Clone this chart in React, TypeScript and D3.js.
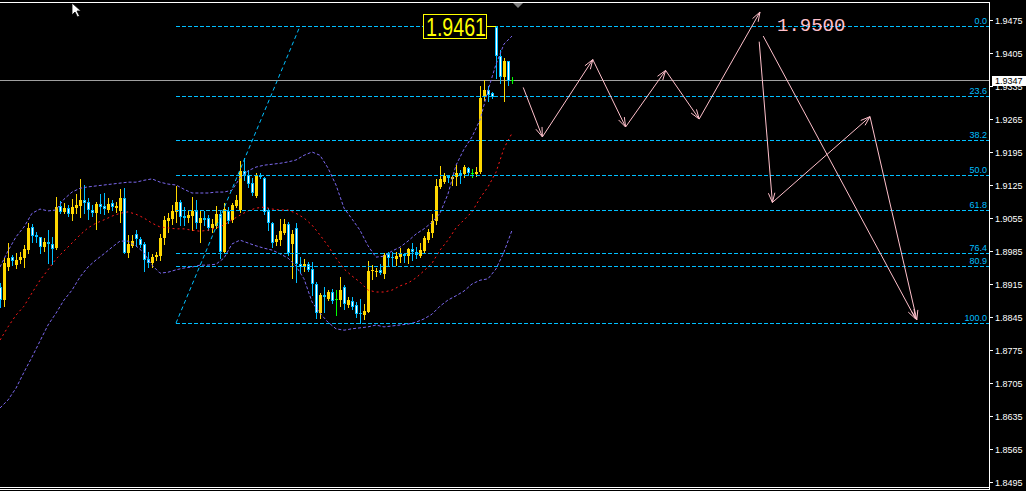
import React from "react";
import * as d3 from "d3";

const WIDTH = 1026;
const HEIGHT = 491;

// ---- candles (one per bar, left to right) ----
const opens = [
  1.8909,1.8881,1.8951,1.8972,1.8955,1.8966,1.8970,1.8987,1.9036,1.9019,
  1.9015,1.8993,1.9004,1.9000,1.8991,1.9080,1.9068,1.9076,1.9063,1.9076,
  1.9080,1.9093,1.9089,1.9072,1.9065,1.9085,1.9080,1.9072,1.9087,1.9076,
  1.9070,1.9097,1.8981,1.8996,1.9021,1.9010,1.9000,1.8968,1.8959,1.8972,
  1.8974,1.9012,1.9049,1.9053,1.9068,1.9089,1.9059,1.9055,1.9059,1.9070,
  1.9044,1.9055,1.9055,1.9034,1.9038,1.9063,1.8983,1.9070,1.9051,1.9080,
  1.9072,1.9155,1.9146,1.9129,1.9102,1.9146,1.9140,1.9070,1.9044,1.9004,
  1.9008,1.9023,1.9042,1.9000,1.9034,1.8957,1.8951,1.8957,1.8947,1.8915,
  1.8853,1.8892,1.8883,1.8898,1.8883,1.8881,1.8909,1.8870,1.8879,1.8870,
  1.8853,1.8849,1.8856,1.8943,1.8940,1.8945,1.8936,1.8979,1.8972,1.8968,
  1.8972,1.8979,1.8974,1.8989,1.8983,1.8974,1.8985,1.9008,1.9023,1.9049,
  1.9121,1.9131,1.9144,1.9138,1.9142,1.9150,1.9148,1.9161,1.9150,1.9148,
  1.9152,1.9311,1.9326,1.9320,1.9460,1.9398,1.9354,1.9388,1.9347,
];
const highs = [
  1.8917,1.8970,1.9002,1.8976,1.8981,1.8983,1.8998,1.9044,1.9042,1.9025,
  1.9015,1.9012,1.9029,1.9015,1.9099,1.9091,1.9087,1.9082,1.9095,1.9106,
  1.9138,1.9125,1.9097,1.9082,1.9089,1.9106,1.9108,1.9097,1.9093,1.9089,
  1.9116,1.9118,1.9019,1.9019,1.9029,1.9015,1.9004,1.8983,1.8979,1.8983,
  1.9021,1.9059,1.9065,1.9082,1.9123,1.9093,1.9078,1.9072,1.9099,1.9093,
  1.9072,1.9070,1.9061,1.9053,1.9080,1.9072,1.9087,1.9078,1.9087,1.9104,
  1.9176,1.9182,1.9157,1.9140,1.9150,1.9150,1.9142,1.9076,1.9046,1.9019,
  1.9053,1.9053,1.9046,1.9029,1.9044,1.8972,1.8968,1.8962,1.8962,1.8919,
  1.8896,1.8909,1.8902,1.8904,1.8902,1.8930,1.8913,1.8887,1.8887,1.8877,
  1.8883,1.8873,1.8964,1.8955,1.8949,1.8957,1.8981,1.8983,1.8983,1.8983,
  1.8991,1.8981,1.8991,1.9002,1.8993,1.9002,1.9017,1.9032,1.9063,1.9138,
  1.9165,1.9150,1.9146,1.9146,1.9167,1.9157,1.9167,1.9163,1.9159,1.9163,
  1.9335,1.9347,1.9335,1.9322,1.9462,1.9411,1.9394,1.9388,1.9354,
];
const lows = [
  1.8866,1.8868,1.8945,1.8955,1.8949,1.8959,1.8951,1.8981,1.9004,1.9004,
  1.8981,1.8985,1.8959,1.8957,1.8989,1.9065,1.9065,1.9059,1.9051,1.9065,
  1.9057,1.9065,1.9053,1.9059,1.9032,1.9065,1.9063,1.9068,1.9072,1.9068,
  1.9046,1.8981,1.8972,1.8993,1.8996,1.8993,1.8943,1.8951,1.8951,1.8966,
  1.8966,1.9000,1.9025,1.9042,1.9046,1.9040,1.9040,1.9046,1.9029,1.9034,
  1.9004,1.9040,1.9029,1.9025,1.9034,1.8970,1.8981,1.9044,1.9046,1.9078,
  1.9068,1.9135,1.9121,1.9104,1.9099,1.9140,1.9063,1.9029,1.8993,1.8998,
  1.8998,1.9021,1.8976,1.8928,1.8919,1.8940,1.8943,1.8943,1.8892,1.8843,
  1.8843,1.8856,1.8881,1.8875,1.8849,1.8868,1.8862,1.8866,1.8862,1.8845,
  1.8832,1.8841,1.8856,1.8926,1.8932,1.8936,1.8928,1.8953,1.8953,1.8955,
  1.8962,1.8962,1.8959,1.8966,1.8970,1.8972,1.8983,1.9004,1.9015,1.9042,
  1.9118,1.9129,1.9131,1.9125,1.9125,1.9129,1.9142,1.9146,1.9142,1.9144,
  1.9150,1.9305,1.9303,1.9309,1.9352,1.9341,1.9303,1.9337,1.9341,
];
const closes = [
  1.8881,1.8959,1.8970,1.8964,1.8966,1.8972,1.8989,1.9034,1.9017,1.9015,
  1.8993,1.9004,1.9000,1.8989,1.9078,1.9068,1.9076,1.9063,1.9078,1.9082,
  1.9093,1.9087,1.9072,1.9065,1.9085,1.9078,1.9074,1.9085,1.9078,1.9080,
  1.9097,1.8981,1.9000,1.9006,1.9010,1.8998,1.8966,1.8959,1.8972,1.8976,
  1.9012,1.9051,1.9055,1.9070,1.9089,1.9057,1.9055,1.9061,1.9070,1.9044,
  1.9055,1.9051,1.9034,1.9042,1.9063,1.8983,1.9074,1.9049,1.9082,1.9093,
  1.9155,1.9146,1.9127,1.9108,1.9146,1.9142,1.9068,1.9044,1.9002,1.9010,
  1.9027,1.9042,1.8981,1.9021,1.8957,1.8951,1.8957,1.8945,1.8915,1.8853,
  1.8892,1.8887,1.8898,1.8879,1.8883,1.8902,1.8873,1.8881,1.8866,1.8851,
  1.8851,1.8858,1.8943,1.8945,1.8943,1.8938,1.8976,1.8970,1.8970,1.8974,
  1.8981,1.8974,1.8989,1.8983,1.8976,1.8987,1.9012,1.9025,1.9049,1.9123,
  1.9138,1.9144,1.9140,1.9142,1.9150,1.9146,1.9163,1.9150,1.9150,1.9152,
  1.9309,1.9326,1.9316,1.9311,1.9398,1.9354,1.9388,1.9345,1.9347,
];

// ---- Bollinger bands, sampled every 2nd bar ----
const bandStep = 2;
const bbUpper = [
  1.8951,1.8985,1.9015,1.9036,1.9065,1.9074,1.9070,1.9072,1.9095,1.9110,
  1.9118,1.9121,1.9123,1.9125,1.9127,1.9129,1.9131,1.9131,1.9135,1.9138,
  1.9131,1.9127,1.9125,1.9116,1.9108,1.9108,1.9108,1.9110,1.9110,1.9114,
  1.9140,1.9155,1.9163,1.9167,1.9169,1.9171,1.9174,1.9178,1.9188,1.9195,
  1.9188,1.9161,1.9125,1.9076,1.9053,1.9029,1.8996,1.8972,1.8974,1.8985,
  1.8993,1.9006,1.9021,1.9032,1.9046,1.9065,1.9106,1.9167,1.9201,1.9227,
  1.9263,1.9326,1.9381,1.9424,1.9441,
];
const bbMiddle = [
  1.8796,1.8824,1.8849,1.8868,1.8896,1.8923,1.8945,1.8968,1.8985,1.9002,
  1.9019,1.9034,1.9044,1.9051,1.9059,1.9065,1.9068,1.9063,1.9055,1.9044,
  1.9036,1.9034,1.9032,1.9032,1.9029,1.9027,1.9029,1.9034,1.9040,1.9051,
  1.9061,1.9070,1.9076,1.9078,1.9074,1.9072,1.9072,1.9065,1.9055,1.9040,
  1.9019,1.8996,1.8970,1.8947,1.8932,1.8919,1.8902,1.8898,1.8898,1.8902,
  1.8911,1.8917,1.8928,1.8943,1.8959,1.8987,1.9008,1.9034,1.9051,1.9068,
  1.9097,1.9121,1.9152,1.9203,1.9235,
];
const bbLower = [
  1.8652,1.8669,1.8694,1.8728,1.8760,1.8794,1.8828,1.8853,1.8881,1.8902,
  1.8930,1.8951,1.8966,1.8979,1.8993,1.9006,1.9006,1.8996,1.8981,1.8955,
  1.8938,1.8940,1.8945,1.8949,1.8951,1.8955,1.8955,1.8957,1.8970,1.9000,
  1.9008,1.9002,1.8996,1.8991,1.8987,1.8979,1.8970,1.8953,1.8926,1.8877,
  1.8853,1.8834,1.8820,1.8817,1.8820,1.8822,1.8824,1.8828,1.8824,1.8826,
  1.8828,1.8830,1.8834,1.8841,1.8851,1.8868,1.8881,1.8890,1.8900,1.8915,
  1.8923,1.8926,1.8947,1.8983,1.9029,
];

// ---- price axis ----
const priceTicks = [
  1.9475,1.9405,1.9335,1.9265,1.9195,1.9125,1.9055,1.8985,1.8915,1.8845,
  1.8775,1.8705,1.8635,1.8565,1.8495,
];
const currentPrice = 1.9347;

// ---- Fibonacci retracement ----
const fibLevels = [0, 23.6, 38.2, 50, 61.8, 76.4, 80.9, 100];
const fibBar = [44, 75]; // bar of 100% anchor, bar of 0% anchor
const fibPrice = [1.8832, 1.9462];

// high label
const highLabelText = "1.9461";
const highLabelBar = 106;
const highLabelPrice = 1.9462;

// ---- forecast arrows (bar index, price) ----
const zigBars = [130.8, 135.6, 148.2, 156.4, 166.4, 174.8, 190];
const zigPrices = [1.9332, 1.9227, 1.9391, 1.9248, 1.9368, 1.9265, 1.9492];
const branchBars = [189.8, 193.1, 217.5, 229.2];
const branchPrices = [1.9429, 1.9088, 1.927, 1.8839];
const directBars = [190.8, 228.9];
const directPrices = [1.9441, 1.8841];
const targetText = "1.9500";
const targetBar = 194.25;
const targetPrice = 1.9451;

const BULL = "#ffd700";
const BEAR = "#00bfff";
const DOJI = "#00ff00";
const FIB = "#00bfff";
const PINK = "#ffc0cb";
const BAND = "#7b68ee";
const MID = "#ff1a1a";

export default function App() {
  const plotRight = 990;
  const x = d3.scaleLinear().domain([0, 247.5]).range([0, plotRight]);
  const y = d3.scaleLinear().domain([1.8495, 1.9475]).range([482, 20]);
  const ry = (p: number) => Math.round(y(p));

  const candles = opens.map((o, i) => {
    const c = closes[i];
    const cx = Math.round(x(i));
    const yH = ry(highs[i]);
    const yL = ry(lows[i]);
    const yO = ry(o);
    const yC = ry(c);
    const top = Math.min(yO, yC);
    const bot = Math.max(yO, yC);
    if (c > o) {
      return (
        <g key={i}>
          <line x1={cx + 0.5} x2={cx + 0.5} y1={yH} y2={yL + 1} stroke={BULL} />
          <rect x={cx - 1} y={top} width={3} height={Math.max(1, bot - top)} fill={BULL} />
        </g>
      );
    }
    if (c < o) {
      return (
        <g key={i}>
          <line x1={cx + 0.5} x2={cx + 0.5} y1={yH} y2={yL + 1} stroke={BEAR} />
          {bot - top >= 2 ? (
            <rect x={cx - 0.5} y={top + 0.5} width={2} height={bot - top - 1} fill="#ffffff" stroke={BEAR} />
          ) : (
            <rect x={cx - 1} y={top} width={3} height={Math.max(1, bot - top)} fill={BEAR} />
          )}
        </g>
      );
    }
    return (
      <g key={i}>
        <line x1={cx + 0.5} x2={cx + 0.5} y1={yH} y2={yL + 1} stroke={DOJI} />
        <rect x={cx - 1} y={top} width={3} height={1} fill={DOJI} />
      </g>
    );
  });

  const bandLine = d3
    .line<number>()
    .x((_, i) => x(i * bandStep))
    .y((d) => y(d));

  const fibX0 = Math.round(x(Math.min(fibBar[0], fibBar[1])));
  const fibLines = fibLevels.map((lv) => {
    const p = fibPrice[1] + ((fibPrice[0] - fibPrice[1]) * lv) / 100;
    const yy = ry(p) + 0.5;
    return (
      <g key={lv}>
        <line x1={fibX0} x2={plotRight} y1={yy} y2={yy} stroke={FIB} strokeDasharray="4,2" />
        <text x={987} y={yy - 2.5} fill={FIB} fontSize={9} textAnchor="end" fontFamily="'Liberation Sans', Arial, sans-serif">
          {lv.toFixed(1)}
        </text>
      </g>
    );
  });

  const arrow = (x1: number, y1: number, x2: number, y2: number, key: string) => {
    const a = Math.atan2(y2 - y1, x2 - x1);
    const L = 10;
    const w = 0.33;
    const p1 = [x2 - L * Math.cos(a - w), y2 - L * Math.sin(a - w)];
    const p2 = [x2 - L * Math.cos(a + w), y2 - L * Math.sin(a + w)];
    return (
      <g key={key} stroke={PINK} strokeWidth={1} fill="none">
        <line x1={x1} y1={y1} x2={x2} y2={y2} />
        <path d={`M${p1[0]},${p1[1]}L${x2},${y2}L${p2[0]},${p2[1]}`} />
      </g>
    );
  };

  const arrows: React.ReactNode[] = [];
  const addChain = (bars: number[], prices: number[], tag: string) => {
    for (let i = 0; i < bars.length - 1; i++) {
      arrows.push(
        arrow(x(bars[i]), y(prices[i]), x(bars[i + 1]), y(prices[i + 1]), `${tag}${i}`)
      );
    }
  };
  addChain(zigBars, zigPrices, "z");
  addChain(branchBars, branchPrices, "b");
  addChain(directBars, directPrices, "d");

  const bidY = ry(currentPrice) + 0.5;
  const hlX = Math.round(x(highLabelBar));
  const hlY = ry(highLabelPrice);
  const spikeX = Math.round(x(124));

  return (
    <svg
      width={WIDTH}
      height={HEIGHT}
      style={{ position: "fixed", left: 0, top: 0, display: "block", background: "#000" }}
      fontFamily="'Liberation Sans', Arial, sans-serif"
    >
      <rect x={0} y={0} width={WIDTH} height={HEIGHT} fill="#000" />

      {/* bid line */}
      <line x1={0} x2={plotRight} y1={bidY} y2={bidY} stroke="#a0a0a0" />

      {/* candles */}
      <g>{candles}</g>

      {/* Bollinger bands */}
      <path d={bandLine(bbUpper) || ""} fill="none" stroke={BAND} strokeDasharray="3,2" />
      <path d={bandLine(bbLower) || ""} fill="none" stroke={BAND} strokeDasharray="3,2" />
      <path d={bandLine(bbMiddle) || ""} fill="none" stroke={MID} strokeDasharray="2,3" />

      {/* Fibonacci */}
      {fibLines}
      <line
        x1={x(fibBar[0])}
        y1={y(fibPrice[0])}
        x2={x(fibBar[1])}
        y2={y(fibPrice[1])}
        stroke={FIB}
        strokeDasharray="4,3"
      />

      {/* high label */}
      <rect x={hlX - 0.5} y={hlY - 11.5} width={63} height={24} fill="#000" stroke="#ffff00" />
      <text
        x={hlX + 2}
        y={hlY + 10}
        fill="#ffff00"
        fontSize={25}
        textLength={60}
        lengthAdjust="spacingAndGlyphs"
      >
        {highLabelText}
      </text>
      <line x1={hlX + 63} x2={spikeX} y1={hlY + 0.5} y2={hlY + 0.5} stroke="#ffff00" />

      {/* forecast arrows */}
      {arrows}
      <text
        x={x(targetBar)}
        y={y(targetPrice)}
        fill={PINK}
        fontSize={19}
        fontFamily="'Liberation Mono', 'DejaVu Sans Mono', monospace"
      >
        {targetText}
      </text>

      {/* frame */}
      <line x1={0} x2={plotRight} y1={2.5} y2={2.5} stroke="#ffffff" />
      <line x1={plotRight - 0.5} x2={plotRight - 0.5} y1={2} y2={490} stroke="#ffffff" />
      <line x1={0} x2={plotRight} y1={487.5} y2={487.5} stroke="#ffffff" />
      <line x1={0} x2={plotRight} y1={489.5} y2={489.5} stroke="#ffffff" />

      {/* shift marker */}
      <path d="M513,3 L523,3 L518,8 Z" fill="#808080" />

      {/* price axis */}
      {priceTicks.map((p) => {
        const yy = ry(p) + 0.5;
        return (
          <g key={p}>
            <line x1={plotRight} x2={plotRight + 3} y1={yy} y2={yy} stroke="#ffffff" />
            <text x={995} y={yy + 3.5} fill="#ffffff" fontSize={9}>
              {p.toFixed(4)}
            </text>
          </g>
        );
      })}
      <rect x={992} y={bidY - 4.5} width={34} height={10} fill="#ffffff" />
      <text x={995} y={bidY + 3.5} fill="#000000" fontSize={9}>
        {currentPrice.toFixed(4)}
      </text>

      {/* mouse cursor */}
      <path
        d="M72,3 L72,15 L75,12 L77.5,17 L79.5,16 L77,11 L81,11 Z"
        fill="#ffffff"
        stroke="#000000"
        strokeWidth={0.8}
      />
    </svg>
  );
}
